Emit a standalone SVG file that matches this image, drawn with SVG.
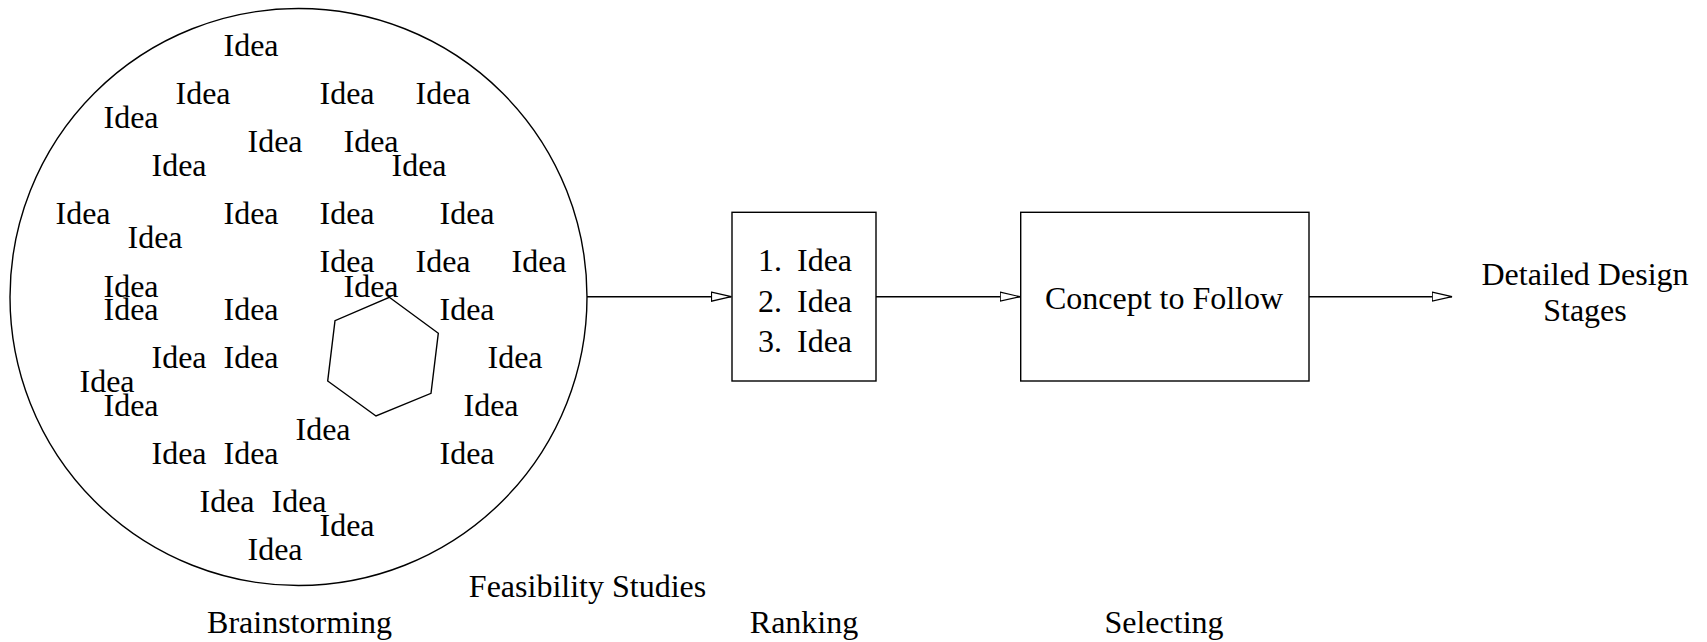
<svg xmlns="http://www.w3.org/2000/svg" width="1707" height="642" viewBox="0 0 1707 642">
<style>
text{font-family:"Liberation Serif","Times New Roman",serif;font-size:32px;fill:#000}
.c{text-anchor:middle}
.shape{fill:#fff;stroke:#000;stroke-width:1.4}
.conn{fill:none;stroke:#000;stroke-width:1.4}
</style>
<defs>
<marker id="ah" markerUnits="userSpaceOnUse" markerWidth="22" markerHeight="12" refX="20.5" refY="5.5" orient="auto" viewBox="0 0 22 12">
<path d="M0.7,1 L20.5,5.5 L0.7,10 Z" fill="#fff" stroke="#000" stroke-width="1.2"/>
</marker>
</defs>
<rect width="1707" height="642" fill="#fff"/>
<g id="brainstorming">
<circle class="shape" cx="298.5" cy="297" r="288.5"/>
<polygon class="shape" points="389.3,297.3 438.3,333.3 431,393.3 376,416 327.7,381 335,320.7"/>
<text x="223.5" y="56">Idea</text>
<text x="175.5" y="104">Idea</text>
<text x="319.5" y="104">Idea</text>
<text x="415.5" y="104">Idea</text>
<text x="103.5" y="128">Idea</text>
<text x="247.5" y="152">Idea</text>
<text x="343.5" y="152">Idea</text>
<text x="151.5" y="176">Idea</text>
<text x="391.5" y="176">Idea</text>
<text x="55.5" y="224">Idea</text>
<text x="223.5" y="224">Idea</text>
<text x="319.5" y="224">Idea</text>
<text x="439.5" y="224">Idea</text>
<text x="127.5" y="248">Idea</text>
<text x="319.5" y="272">Idea</text>
<text x="415.5" y="272">Idea</text>
<text x="511.5" y="272">Idea</text>
<text x="103.5" y="296.5">Idea</text>
<text x="343.5" y="296.5">Idea</text>
<text x="103.5" y="320">Idea</text>
<text x="223.5" y="320">Idea</text>
<text x="439.5" y="320">Idea</text>
<text x="151.5" y="368">Idea</text>
<text x="223.5" y="368">Idea</text>
<text x="487.5" y="368">Idea</text>
<text x="79.5" y="392">Idea</text>
<text x="103.5" y="416">Idea</text>
<text x="463.5" y="416">Idea</text>
<text x="295.5" y="440">Idea</text>
<text x="151.5" y="464">Idea</text>
<text x="223.5" y="464">Idea</text>
<text x="439.5" y="464">Idea</text>
<text x="199.5" y="512">Idea</text>
<text x="271.5" y="512">Idea</text>
<text x="319.5" y="536">Idea</text>
<text x="247.5" y="560">Idea</text>
</g>
<g id="ranking">
<rect class="shape" x="732" y="212.3" width="144" height="168.7"/>
<text x="758" y="271">1.</text><text x="797" y="271">Idea</text>
<text x="758" y="311.5">2.</text><text x="797" y="311.5">Idea</text>
<text x="758" y="352">3.</text><text x="797" y="352">Idea</text>
</g>
<g id="selecting">
<rect class="shape" x="1020.7" y="212.3" width="288.3" height="168.7"/>
<text class="c" x="1164" y="309">Concept to Follow</text>
</g>
<g id="detailed">
<text class="c" x="1585" y="285">Detailed Design</text>
<text class="c" x="1585" y="321">Stages</text>
</g>
<g id="labels">
<text class="c" x="587.5" y="596.7">Feasibility Studies</text>
<text class="c" x="299.5" y="633">Brainstorming</text>
<text class="c" x="804" y="633">Ranking</text>
<text class="c" x="1164" y="633">Selecting</text>
</g>
<g id="connectors">
<line class="conn" x1="587" y1="296.7" x2="731.3" y2="296.7" marker-end="url(#ah)"/>
<line class="conn" x1="876" y1="296.7" x2="1020" y2="296.7" marker-end="url(#ah)"/>
<line class="conn" x1="1309" y1="296.7" x2="1452" y2="296.7" marker-end="url(#ah)"/>
</g>
</svg>
